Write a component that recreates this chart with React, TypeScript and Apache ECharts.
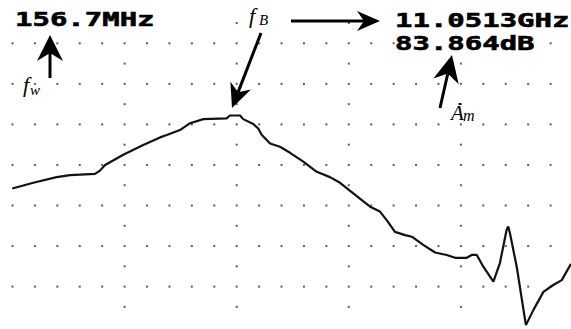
import React, { useEffect, useRef } from "react";
import * as echarts from "echarts";

// Trace: x in horizontal minor divisions, y in vertical divisions
const traceX = [
  -0.01, 0.93, 1.97, 2.57, 3.68, 3.9, 4.13, 4.94, 5.83, 6.58, 6.88, 7.47, 7.92, 8.51, 9.55, 9.7, 10.15,
  10.29, 10.74, 10.96, 11.12, 11.49, 11.93, 12.38, 12.97, 13.57, 14.16, 14.61, 15.2, 15.95, 16.39,
  16.69, 17.06, 17.51, 17.81, 18.32, 18.85, 19.37, 19.74, 20.26, 20.48, 20.71, 21.0, 21.45, 21.74,
  22.04, 22.11, 22.19, 22.49, 22.9, 23.23, 23.68, 24.12, 24.5, 24.91,
];
const traceY = [
  2.42, 2.56, 2.7, 2.75, 2.78, 2.86, 3.0, 3.25, 3.49, 3.68, 3.74, 3.86, 4.03, 4.13, 4.15, 4.22, 4.22,
  4.13, 4.01, 3.9, 3.74, 3.53, 3.45, 3.3, 3.08, 2.83, 2.7, 2.56, 2.3, 1.97, 1.85,
  1.64, 1.35, 1.27, 1.23, 1.03, 0.84, 0.78, 0.71, 0.71, 0.78, 0.78, 0.49, 0.12, 0.58,
  1.4, 1.48, 1.31, 0.49, -0.95, -0.58, -0.13, 0.04, 0.16, 0.56,
];

// Graticule
const gridColumns = Array.from({ length: 25 }, (_, i) => i);
const gridRows = [0, 1, 2, 3, 4, 5, 6];
const majorColumns = [5, 10, 15, 20];
const halfRows = [-0.5, 0.5, 1.5, 2.5, 3.5, 4.5, 5.5, 6.5];

// Readouts
const markerFreq = "11.0513GHz";
const markerAmp = "83.864dB";
const spanText = "156.7MHz";

function arrow(x1: number, y1: number, x2: number, y2: number, len: number, half: number, notch: number, width: number) {
  const dx = x2 - x1, dy = y2 - y1;
  const L = Math.hypot(dx, dy);
  const ux = dx / L, uy = dy / L;
  const nx = -uy, ny = ux;
  const bx = x2 - ux * len, by = y2 - uy * len;
  const mx = x2 - ux * (len - notch), my = y2 - uy * (len - notch);
  return [
    { type: "line", z: 100, shape: { x1, y1, x2: mx, y2: my }, style: { stroke: "#000", lineWidth: width } },
    {
      type: "polygon",
      z: 100,
      shape: { points: [[x2, y2], [bx + nx * half, by + ny * half], [mx, my], [bx - nx * half, by - ny * half]] },
      style: { fill: "#000" },
    },
  ];
}

export default function App() {
  const ref = useRef<HTMLDivElement>(null);
  useEffect(() => {
    if (!ref.current) return;
    const chart = echarts.init(ref.current, null, { renderer: "svg" });
    const dots: number[][] = [];
    gridRows.forEach((r) => gridColumns.forEach((c) => dots.push([c, r])));
    halfRows.forEach((r) => majorColumns.forEach((c) => dots.push([c, r])));
    const trace = traceX.map((x, i) => [x, traceY[i]]);
    const lcd = (text: string, x: number, y: number) => ({
      type: "text",
      z: 100,
      x,
      y,
      scaleX: 1.45,
      style: {
        text,
        font: 'bold 20px "DejaVu Sans Mono"',
        fill: "#000",
        stroke: "#000",
        lineWidth: 0.6,
        align: "left",
        verticalAlign: "middle",
        backgroundColor: "#fff",
      },
    });
    const it = (text: string, x: number, y: number, size: number) => ({
      type: "text",
      z: 101,
      x,
      y,
      style: {
        text,
        font: `italic ${size}px "Liberation Serif"`,
        fill: "#000",
        align: "left",
        verticalAlign: "middle",
      },
    });
    chart.setOption({
      animation: false,
      backgroundColor: "#fff",
      grid: { left: 0, right: 0, top: 0, bottom: 0 },
      xAxis: { type: "value", min: -0.5575, max: 24.911, show: false },
      yAxis: { type: "value", min: -1.0456, max: 7.068, show: false },
      series: [
        {
          type: "scatter",
          data: dots,
          symbol: "rect",
          symbolSize: 2,
          itemStyle: { color: "#333" },
          silent: true,
          z: 1,
        },
        {
          type: "line",
          data: trace,
          symbol: "none",
          lineStyle: { color: "#111", width: 2.2 },
          z: 2,
        },
      ],
      graphic: [
        lcd(spanText, 15, 19.5),
        lcd(markerFreq, 395, 20),
        lcd(markerAmp, 395, 43.5),
        ...arrow(50, 78, 50, 35, 26, 13, 8, 3),
        ...arrow(261, 33, 232, 108, 24, 11, 7, 3),
        ...arrow(291, 21, 380, 21, 23, 10, 7, 3),
        ...arrow(440, 108, 452, 55, 27, 13, 8, 3),
        it("f", 23, 84, 22),
        it("w", 30, 90, 15),
        it("f", 249, 15.5, 22),
        it("B", 259, 19.5, 15),
        it("Ȧ", 451, 112.5, 21),
        it("m", 463, 115.5, 16),
      ],
    });
    return () => chart.dispose();
  }, []);
  return (
    <div
      ref={ref}
      style={{ position: "fixed", left: 0, top: 0, width: 571, height: 329, background: "#fff" }}
    />
  );
}
